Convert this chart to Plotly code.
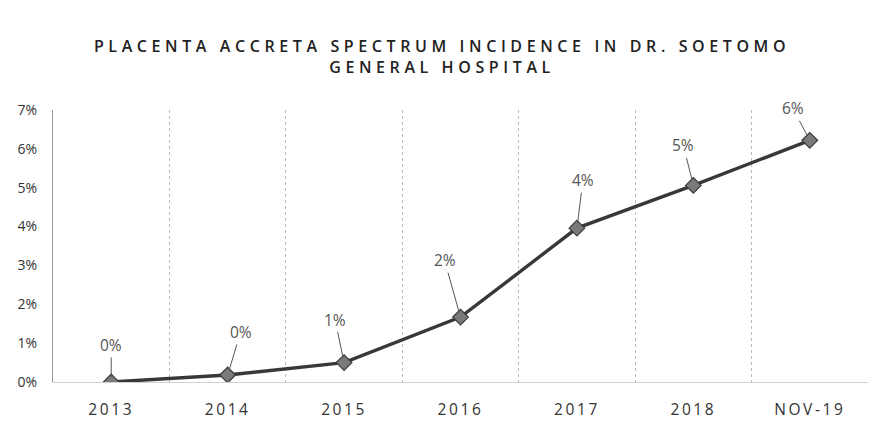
import plotly.graph_objects as go

categories = ["2013", "2014", "2015", "2016", "2017", "2018", "NOV-19"]
incidence = [0.0, 0.18, 0.5, 1.67, 3.96, 5.06, 6.22]
labels = ["0%", "0%", "1%", "2%", "4%", "5%", "6%"]
label_dx = [0, 13, -9, -16, 6, -10, -17]
label_dy = [-37, -43, -43, -57, -48, -40, -32]
y_ticks = [0, 1, 2, 3, 4, 5, 6, 7]
y_ticktext = ["0%", "1%", "2%", "3%", "4%", "5%", "6%", "7%"]

fig = go.Figure()
fig.add_trace(go.Scatter(
    x=list(range(len(categories))), y=incidence, mode="lines+markers",
    line=dict(color="#383838", width=3.4),
    marker=dict(symbol="diamond", size=12, color="#7a7a7a",
                line=dict(color="#3a3a3a", width=1.2)),
    showlegend=False, hoverinfo="skip",
))

for i, (v, t, dx, dy) in enumerate(zip(incidence, labels, label_dx, label_dy)):
    fig.add_annotation(
        x=i, y=v, text=t, showarrow=True, arrowhead=0, arrowwidth=1,
        arrowcolor="#555555", ax=dx, ay=dy, standoff=5,
        font=dict(family="Open Sans", size=15.5, color="#555555"),
    )

fig.update_layout(
    width=893, height=442,
    margin=dict(l=53, r=25, t=110, b=60),
    paper_bgcolor="white", plot_bgcolor="white",
    title=dict(
        text="PLACENTA ACCRETA SPECTRUM INCIDENCE IN DR. SOETOMO<br>GENERAL HOSPITAL",
        x=0.495, xanchor="center", y=0.883, yanchor="middle",
        font=dict(family="Open Sans", size=16, color="#222222", weight=600),
    ),
    xaxis=dict(
        range=[-0.5, 6.5],
        tickvals=list(range(len(categories))), ticktext=categories,
        showgrid=False, zeroline=False,
        minor=dict(tickvals=[i - 0.5 for i in range(len(categories) + 1)],
                   showgrid=True, gridcolor="#bbbbbb", griddash="dot",
                   gridwidth=1, ticks=""),
        showline=True, linecolor="#d0d0d0", linewidth=1,
        ticks="outside", ticklen=13, tickcolor="rgba(0,0,0,0)",
        tickfont=dict(family="Open Sans", size=15.5, color="#333333"),
    ),
    yaxis=dict(
        range=[0, 7], tickvals=y_ticks, ticktext=y_ticktext,
        showgrid=False, zeroline=False,
        showline=True, linecolor="#999999", linewidth=1,
        tickfont=dict(family="Open Sans", size=14, color="#333333"),
        ticks="outside", ticklen=12, tickcolor="rgba(0,0,0,0)",
    ),
)

post = """
var gd = document.getElementById('{plot_id}');
function spaceText(){
  gd.querySelectorAll('.gtitle').forEach(function(e){ e.style.letterSpacing='4.6px'; });
  gd.querySelectorAll('.xtick text').forEach(function(e){ e.style.letterSpacing='2.6px'; });
}
spaceText();
gd.on('plotly_afterplot', spaceText);
"""

fig.write_html("out.html", post_script=post)
